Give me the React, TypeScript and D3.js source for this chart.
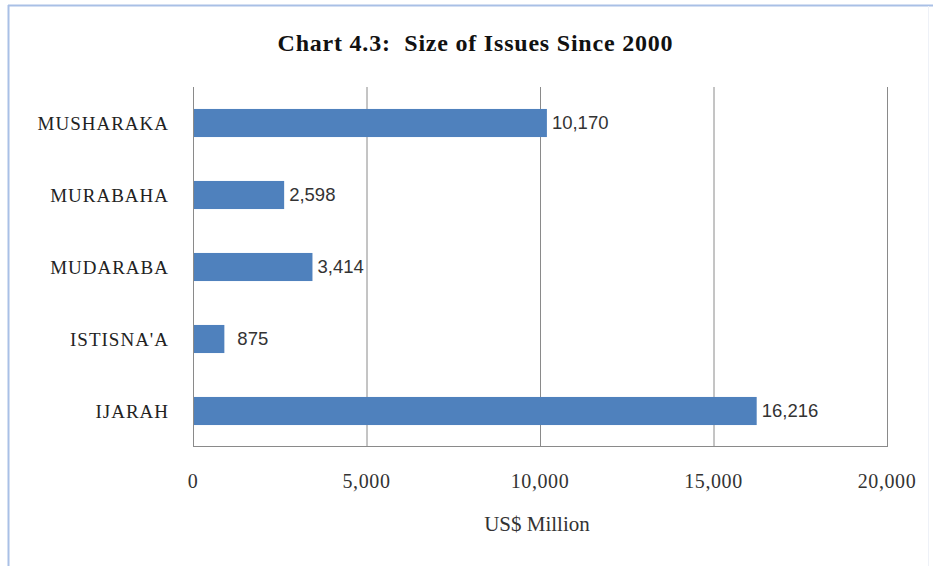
import React from "react";
import * as d3 from "d3";

const categories = ["MUSHARAKA", "MURABAHA", "MUDARABA", "ISTISNA'A", "IJARAH"];
const values = [10170, 2598, 3414, 875, 16216];
const xTicks = [0, 5000, 10000, 15000, 20000];
const title = "Chart 4.3:  Size of Issues Since 2000";
const xTitle = "US$ Million";

export default function App() {
  const W = 933, H = 566;
  const left = 193, right = 887, top = 87, bottom = 447;
  const x = d3.scaleLinear().domain([0, 20000]).range([left, right]);
  const y = d3.scaleBand().domain(categories).range([top, bottom]).paddingInner(0.61).paddingOuter(0.305);
  const fmt = d3.format(",");
  return (
    <svg width={W} height={H} style={{ position: "absolute", left: 0, top: 0, background: "#fff" }}>
      <rect x={0} y={0} width={W} height={H} fill="#fff" />
      <line x1={8.5} y1={5} x2={8.5} y2={H} stroke="#a9c0e6" strokeWidth={2} />
      <line x1={8} y1={5.5} x2={W} y2={5.5} stroke="#a9c0e6" strokeWidth={2} />
      <line x1={928.5} y1={6} x2={928.5} y2={H} stroke="#eef1f7" strokeWidth={1} />
      <text x={475} y={51} textAnchor="middle" fontFamily="Liberation Serif" fontWeight="bold" fontSize={24} fill="#111" style={{ whiteSpace: "pre" }} textLength={395} lengthAdjust="spacing">{title}</text>
      {xTicks.map((t) => (
        <line key={"g" + t} x1={x(t) + 0.5} x2={x(t) + 0.5} y1={top} y2={bottom} stroke="#8a8a8a" strokeWidth={1} />
      ))}
      <line x1={left} x2={right + 1} y1={bottom - 0.5} y2={bottom - 0.5} stroke="#8a8a8a" />
      {categories.map((c, i) => (
        <g key={c}>
          <rect x={x(0) + 1} y={y(c)!} width={x(values[i]) - x(0)} height={y.bandwidth()} fill="#4f81bd" />
          <text x={left - 24} y={y(c)! + y.bandwidth() / 2} dy="0.35em" textAnchor="end" fontFamily="Liberation Serif" fontSize={19} fill="#222" letterSpacing={1}>{c}</text>
          <text x={x(values[i]) + (values[i] < 1000 ? 14 : 6)} y={y(c)! + y.bandwidth() / 2} dy="0.35em" fontFamily="Liberation Sans" fontSize={18.5} fill="#333">{fmt(values[i])}</text>
        </g>
      ))}
      {xTicks.map((t) => (
        <text key={"t" + t} x={x(t)} y={488} textAnchor="middle" fontFamily="Liberation Serif" fontSize={20} fill="#333" letterSpacing={0.6}>{fmt(t)}</text>
      ))}
      <text x={537} y={531} textAnchor="middle" fontFamily="Liberation Serif" fontSize={21} fill="#333">{xTitle}</text>
    </svg>
  );
}
